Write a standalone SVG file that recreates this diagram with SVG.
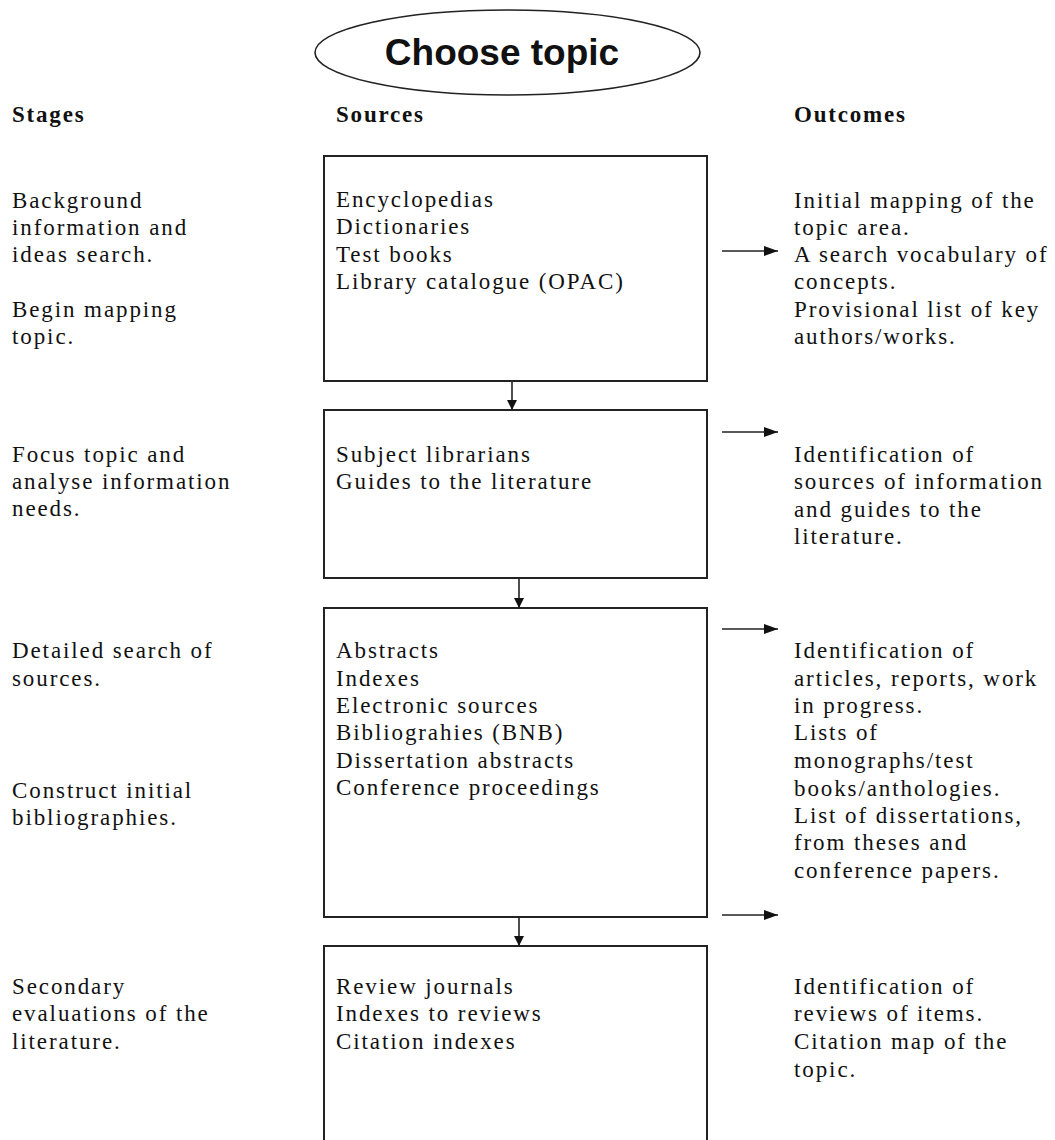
<svg xmlns="http://www.w3.org/2000/svg" width="1055" height="1140" viewBox="0 0 1055 1140">
<defs>
<style>
.t{font-family:"Liberation Serif","Times New Roman",serif;font-size:23px;letter-spacing:1.9px;fill:#111}
.h{font-family:"Liberation Serif","Times New Roman",serif;font-size:23px;font-weight:bold;letter-spacing:1.8px;fill:#111}
.box{fill:none;stroke:#222;stroke-width:2}
.c{stroke:#222;stroke-width:1.6;fill:none}
</style>
<marker id="ah" viewBox="0 0 10 10" refX="10" refY="5" markerWidth="10" markerHeight="10" markerUnits="userSpaceOnUse" orient="auto">
<path d="M0,0 L10,5 L0,10 z" fill="#111"/>
</marker>
<marker id="ahr" viewBox="0 0 14 10" refX="14" refY="5" markerWidth="14" markerHeight="10" markerUnits="userSpaceOnUse" orient="auto">
<path d="M0,0 L14,5 L0,10 z" fill="#111"/>
</marker>
</defs>
<rect width="1055" height="1140" fill="#fff"/>

<g id="start">
<ellipse cx="507.5" cy="52.5" rx="192.5" ry="42.5" fill="none" stroke="#222" stroke-width="1.6"/>
<text x="502" y="65" text-anchor="middle" style="font-family:'Liberation Sans',Arial,sans-serif;font-size:37px;font-weight:bold;fill:#111">Choose topic</text>
</g>

<g id="headers">
<text class="h" x="12" y="122">Stages</text>
<text class="h" x="336" y="122">Sources</text>
<text class="h" x="794" y="122">Outcomes</text>
</g>

<g id="stage1">
<text class="t" x="12" y="208">Background</text>
<text class="t" x="12" y="235">information and</text>
<text class="t" x="12" y="262">ideas search.</text>
<text class="t" x="12" y="317">Begin mapping</text>
<text class="t" x="12" y="344">topic.</text>
</g>
<g id="sources1">
<rect class="box" x="324" y="156" width="383" height="225"/>
<text class="t" x="336" y="207">Encyclopedias</text>
<text class="t" x="336" y="234">Dictionaries</text>
<text class="t" x="336" y="262">Test books</text>
<text class="t" x="336" y="289">Library catalogue (OPAC)</text>
</g>
<g id="outcomes1">
<text class="t" x="794" y="208">Initial mapping of the</text>
<text class="t" x="794" y="235">topic area.</text>
<text class="t" x="794" y="262">A search vocabulary of</text>
<text class="t" x="794" y="289">concepts.</text>
<text class="t" x="794" y="317">Provisional list of key</text>
<text class="t" x="794" y="344">authors/works.</text>
</g>

<g id="stage2">
<text class="t" x="12" y="462">Focus topic and</text>
<text class="t" x="12" y="489">analyse information</text>
<text class="t" x="12" y="516">needs.</text>
</g>
<g id="sources2">
<rect class="box" x="324" y="410" width="383" height="168"/>
<text class="t" x="336" y="462">Subject librarians</text>
<text class="t" x="336" y="489">Guides to the literature</text>
</g>
<g id="outcomes2">
<text class="t" x="794" y="462">Identification of</text>
<text class="t" x="794" y="489">sources of information</text>
<text class="t" x="794" y="517">and guides to the</text>
<text class="t" x="794" y="544">literature.</text>
</g>

<g id="stage3">
<text class="t" x="12" y="658">Detailed search of</text>
<text class="t" x="12" y="686">sources.</text>
<text class="t" x="12" y="798">Construct initial</text>
<text class="t" x="12" y="825">bibliographies.</text>
</g>
<g id="sources3">
<rect class="box" x="324" y="608" width="383" height="309"/>
<text class="t" x="336" y="658">Abstracts</text>
<text class="t" x="336" y="686">Indexes</text>
<text class="t" x="336" y="713">Electronic sources</text>
<text class="t" x="336" y="740">Bibliograhies (BNB)</text>
<text class="t" x="336" y="768">Dissertation abstracts</text>
<text class="t" x="336" y="795">Conference proceedings</text>
</g>
<g id="outcomes3">
<text class="t" x="794" y="658">Identification of</text>
<text class="t" x="794" y="686">articles, reports, work</text>
<text class="t" x="794" y="713">in progress.</text>
<text class="t" x="794" y="740">Lists of</text>
<text class="t" x="794" y="768">monographs/test</text>
<text class="t" x="794" y="796">books/anthologies.</text>
<text class="t" x="794" y="823">List of dissertations,</text>
<text class="t" x="794" y="850">from theses and</text>
<text class="t" x="794" y="878">conference papers.</text>
</g>

<g id="stage4">
<text class="t" x="12" y="994">Secondary</text>
<text class="t" x="12" y="1021">evaluations of the</text>
<text class="t" x="12" y="1049">literature.</text>
</g>
<g id="sources4">
<rect class="box" x="324" y="946" width="383" height="210"/>
<text class="t" x="336" y="994">Review journals</text>
<text class="t" x="336" y="1021">Indexes to reviews</text>
<text class="t" x="336" y="1049">Citation indexes</text>
</g>
<g id="outcomes4">
<text class="t" x="794" y="994">Identification of</text>
<text class="t" x="794" y="1021">reviews of items.</text>
<text class="t" x="794" y="1049">Citation map of the</text>
<text class="t" x="794" y="1077">topic.</text>
</g>

<g id="connectors">
<line class="c" x1="512" y1="382" x2="512" y2="410" marker-end="url(#ah)"/>
<line class="c" x1="519" y1="579" x2="519" y2="608" marker-end="url(#ah)"/>
<line class="c" x1="519" y1="918" x2="519" y2="946" marker-end="url(#ah)"/>
<line class="c" x1="722" y1="251" x2="778" y2="251" marker-end="url(#ahr)"/>
<line class="c" x1="722" y1="432" x2="778" y2="432" marker-end="url(#ahr)"/>
<line class="c" x1="722" y1="629" x2="778" y2="629" marker-end="url(#ahr)"/>
<line class="c" x1="722" y1="915" x2="778" y2="915" marker-end="url(#ahr)"/>
</g>
</svg>
